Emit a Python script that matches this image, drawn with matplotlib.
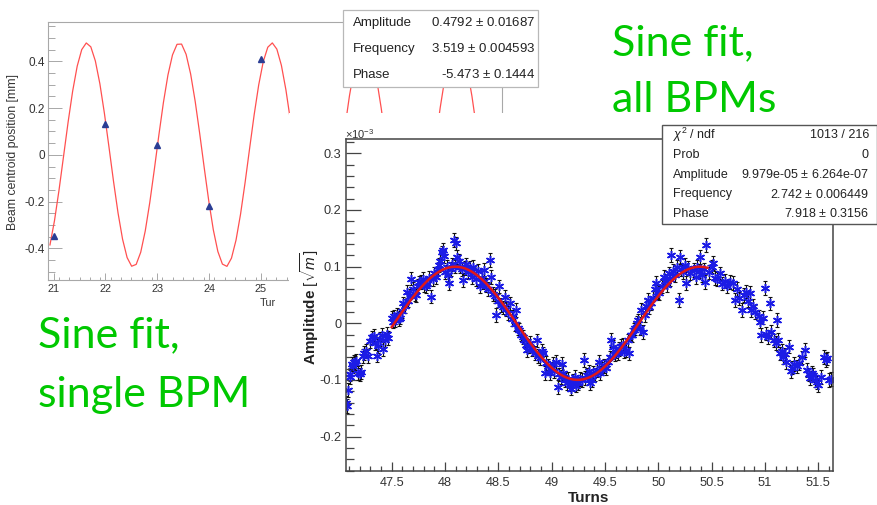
import numpy as np
import matplotlib.pyplot as plt
from matplotlib.patches import Rectangle
from matplotlib.ticker import MultipleLocator, FormatStrFormatter

plt.rcParams['font.family'] = ['Liberation Sans', 'DejaVu Sans']
plt.rcParams['axes.unicode_minus'] = False
plt.rcParams['mathtext.fontset'] = 'custom'
plt.rcParams['mathtext.rm'] = 'Liberation Sans'
plt.rcParams['mathtext.it'] = 'Liberation Sans:italic'

# single BPM: turn number and beam centroid position [mm]
single_turns = [21, 22, 23, 24, 25]
single_pos = [-0.349, 0.131, 0.041, -0.221, 0.410]
single_fit = {"Amplitude": 0.4792, "Frequency": 3.519, "Phase": -5.473}

# all BPMs: turns and amplitude (units of 1e-3 sqrt(m))
all_turns = [
    47.075, 47.085, 47.095, 47.105, 47.11, 47.125, 47.135, 47.145, 47.16, 47.17,
    47.185, 47.2, 47.215, 47.23, 47.245, 47.26, 47.275, 47.3, 47.315, 47.33,
    47.345, 47.36, 47.375, 47.39, 47.405, 47.42, 47.44, 47.455, 47.47,
    47.50, 47.51, 47.52, 47.535, 47.55, 47.565, 47.58, 47.6, 47.61, 47.625,
    47.64, 47.655, 47.67, 47.685, 47.7, 47.715, 47.73, 47.745, 47.76, 47.775,
    47.79, 47.805, 47.82, 47.835, 47.85, 47.87, 47.885, 47.9, 47.915, 47.93,
    47.94, 47.955, 47.97, 47.98, 47.99, 48.0, 48.015, 48.025, 48.04, 48.055,
    48.07, 48.08, 48.095, 48.105, 48.115, 48.13, 48.14, 48.155, 48.17, 48.185,
    48.2, 48.215, 48.23, 48.25, 48.26, 48.275, 48.29, 48.31, 48.33, 48.345,
    48.36, 48.37, 48.385, 48.4, 48.42, 48.435, 48.45, 48.465, 48.48, 48.495,
    48.51, 48.525, 48.54, 48.56, 48.575, 48.59, 48.61, 48.625, 48.64, 48.655,
    48.67, 48.68, 48.695, 48.71, 48.73, 48.745, 48.76, 48.77, 48.785, 48.8,
    48.82, 48.84, 48.86, 48.875, 48.89, 48.905, 48.92, 48.935, 48.95, 48.965,
    48.98, 48.995, 49.01, 49.025, 49.04, 49.055, 49.07, 49.085, 49.1, 49.11,
    49.125, 49.14, 49.155, 49.17, 49.185, 49.2, 49.215, 49.23, 49.25, 49.265,
    49.28, 49.3, 49.315, 49.33, 49.345, 49.36, 49.375, 49.39, 49.41, 49.425,
    49.44, 49.455, 49.47, 49.49, 49.51, 49.53, 49.545, 49.56, 49.575, 49.59,
    49.605, 49.62, 49.635, 49.65, 49.665, 49.68, 49.7, 49.715, 49.72, 49.74,
    49.755, 49.77, 49.78, 49.795, 49.81, 49.825, 49.84, 49.86, 49.87, 49.885,
    49.9, 49.915, 49.93, 49.95, 49.965, 49.98, 49.995, 50.01, 50.03, 50.05,
    50.065, 50.08, 50.095, 50.11, 50.12, 50.14, 50.155, 50.17, 50.19, 50.2,
    50.215, 50.23, 50.25, 50.26, 50.28, 50.3, 50.33, 50.35, 50.36, 50.38,
    50.39, 50.41, 50.43, 50.44, 50.45,
    50.47, 50.5, 50.51, 50.53, 50.55, 50.58, 50.6, 50.62, 50.64, 50.67,
    50.7, 50.72, 50.74, 50.76, 50.78, 50.8, 50.82, 50.84, 50.86, 50.87,
    50.89, 50.91, 50.94, 50.95, 50.96, 50.98, 51.0, 51.01, 51.03, 51.05,
    51.06, 51.08, 51.1, 51.11, 51.12, 51.14, 51.16, 51.17, 51.19, 51.2,
    51.22, 51.24, 51.25, 51.27, 51.3, 51.32, 51.35, 51.37, 51.39, 51.41,
    51.42, 51.44, 51.45, 51.47, 51.49, 51.5, 51.52, 51.55, 51.57, 51.58,
    51.6, 51.62,
]
all_amp = [
    -0.140, -0.146, -0.118, -0.095, -0.090, -0.072, -0.075, -0.068, -0.070, -0.066,
    -0.088, -0.090, -0.086, -0.058, -0.052, -0.048, -0.058, -0.032, -0.025, -0.022,
    -0.035, -0.057, -0.040, -0.028, -0.020, -0.045, -0.030, -0.018, -0.026,
    0.010, 0.003, 0.012, 0.006, 0.015, 0.008, 0.010, 0.022, 0.035, 0.030,
    0.056, 0.040, 0.048, 0.079, 0.060, 0.052, 0.050, 0.066, 0.072, 0.073,
    0.078, 0.068, 0.065, 0.070, 0.080, 0.047, 0.078, 0.088, 0.082, 0.095,
    0.103, 0.110, 0.125, 0.129, 0.118, 0.090, 0.100, 0.085, 0.071, 0.096,
    0.104, 0.147, 0.100, 0.141, 0.117, 0.110, 0.100, 0.095, 0.076, 0.098,
    0.104, 0.090, 0.097, 0.082, 0.100, 0.088, 0.078, 0.092, 0.065, 0.080,
    0.072, 0.094, 0.068, 0.060, 0.112, 0.082, 0.052, 0.048, 0.015, 0.040,
    0.065, 0.032, 0.028, 0.047, 0.025, 0.018, 0.035, 0.008, 0.012, -0.002,
    0.023, -0.009, -0.012, -0.020, -0.024, -0.030, -0.038, -0.047, -0.040, -0.035,
    -0.045, -0.052, -0.030, -0.058, -0.062, -0.048, -0.053, -0.088, -0.070, -0.075,
    -0.088, -0.080, -0.072, -0.085, -0.068, -0.112, -0.090, -0.095, -0.071, -0.088,
    -0.100, -0.105, -0.098, -0.108, -0.115, -0.102, -0.094, -0.110, -0.106, -0.098,
    -0.100, -0.065, -0.096, -0.091, -0.085, -0.106, -0.100, -0.088, -0.090, -0.082,
    -0.068, -0.088, -0.080, -0.075, -0.079, -0.068, -0.060, -0.029, -0.041, -0.055,
    -0.050, -0.053, -0.045, -0.040, -0.038, -0.050, -0.047, -0.030, -0.053, -0.020,
    -0.021, -0.012, -0.009, 0.000, 0.005, -0.008, 0.023, -0.015, 0.015, 0.030,
    0.041, 0.028, 0.035, 0.045, 0.060, 0.071, 0.055, 0.053, 0.065, 0.082,
    0.075, 0.068, 0.088, 0.078, 0.120, 0.092, 0.085, 0.100, 0.041, 0.117,
    0.095, 0.090, 0.103, 0.071, 0.098, 0.088, 0.094, 0.082, 0.100, 0.092,
    0.117, 0.085, 0.095, 0.073, 0.138,
    0.090, 0.100, 0.106, 0.080, 0.078, 0.088, 0.070, 0.075, 0.065, 0.073,
    0.071, 0.041, 0.060, 0.044, 0.023, 0.050, 0.056, 0.040, 0.053, 0.023,
    0.030, 0.020, 0.012, 0.003, -0.021, 0.010, 0.062, -0.018, -0.024, 0.035,
    -0.015, -0.030, -0.035, 0.006, -0.029, -0.053, -0.048, -0.059, -0.055, -0.068,
    -0.041, -0.085, -0.078, -0.072, -0.076, -0.070, -0.060, -0.047, -0.082, -0.090,
    -0.097, -0.088, -0.091, -0.100, -0.104, -0.109, -0.095, -0.059, -0.065, -0.062,
    -0.100, -0.098,
]
amp_err = 0.012
all_fit = {"Amplitude": 9.979e-05, "Frequency": 2.742, "Phase": 7.918}
fit_range = (47.5, 50.46)

W, H = 878, 505
def px_box(x0, y0, x1, y1):
    return [x0 / W, 1 - y1 / H, (x1 - x0) / W, (y1 - y0) / H]
def px(x, y):
    return (x / W, 1 - y / H)

fig = plt.figure(figsize=(8.78, 5.05), dpi=100)

# ---- left picture: single BPM ----
ax1 = fig.add_axes(px_box(48, 22, 502, 280))
ax1.set_zorder(0)
xs = np.linspace(20.93, 29.6, 100)
ax1.plot(xs, single_fit["Amplitude"] * np.sin(single_fit["Frequency"] * xs + single_fit["Phase"]),
         color='#ff5050', lw=0.9)
ax1.plot(single_turns, single_pos, ls='none', marker='^', ms=4.5, color='#2b3d94')
ax1.set_xlim(20.892, 29.654)
ax1.set_ylim(-0.5357, 0.5685)
ax1.set_xticks(single_turns)  # the rest of this axis is hidden under the second picture
ax1.set_xticks(np.arange(20.9, 25.6, 0.2), minor=True)
ax1.yaxis.set_major_locator(MultipleLocator(0.2))
ax1.yaxis.set_minor_locator(MultipleLocator(0.05))
ax1.xaxis.set_major_formatter(FormatStrFormatter('%g'))
ax1.yaxis.set_major_formatter(FormatStrFormatter('%g'))
for s in ax1.spines.values():
    s.set_color('#a8a8a8')
    s.set_linewidth(0.8)
ax1.tick_params(axis='both', which='both', direction='in', colors='#a8a8a8',
                labelcolor='#333333', width=0.7)
ax1.tick_params(axis='y', which='major', length=10, pad=2, labelsize=8.5)
ax1.tick_params(axis='y', which='minor', length=5)
ax1.tick_params(axis='x', which='major', length=5, pad=3, labelsize=7.8)
ax1.tick_params(axis='x', which='minor', length=2.5)
fig.text(*px(13, 152), 'Beam centroid position [mm]', rotation=90, ha='center', va='center',
         fontsize=8.8, color='#333333')
fig.text(*px(260, 303), 'Tur', ha='left', va='center', fontsize=7.8, color='#333333')

# stats box of left picture
fig.add_artist(Rectangle(px(343, 87), 195 / W, 77 / H, transform=fig.transFigure,
                         facecolor='white', edgecolor='#b8b8b8', lw=0.9, zorder=2))
rows1 = [("Amplitude", "0.4792 $\\pm$ 0.01687", 23),
         ("Frequency", "3.519 $\\pm$ 0.004593", 49),
         ("Phase", "-5.473 $\\pm$ 0.1444", 75)]
for name, val, y in rows1:
    fig.text(*px(353, y), name, ha='left', va='center', fontsize=9.5, color='#222222', zorder=3)
    fig.text(*px(535, y), val, ha='right', va='center', fontsize=9.5, color='#222222', zorder=3)

# white background of the second picture
fig.add_artist(Rectangle(px(289, 505), (W - 289) / W, (505 - 113) / H, transform=fig.transFigure,
                         facecolor='white', edgecolor='none', zorder=4))

# ---- right picture: all BPMs ----
ax2 = fig.add_axes(px_box(345.7, 139.3, 832.7, 471))
ax2.set_zorder(5)
ax2.patch.set_alpha(0)
ax2.errorbar(all_turns, all_amp, yerr=amp_err, fmt='none', ecolor='#111111',
             elinewidth=0.8, capsize=1.6, capthick=0.8)
ax2.plot(all_turns, all_amp, ls='none', marker=(6, 2, 0), ms=6.5, mew=1.1, color='#1c1ce6')
xf = np.linspace(fit_range[0], fit_range[1], 100)
ax2.plot(xf, all_fit["Amplitude"] * 1e3 * np.sin(all_fit["Frequency"] * xf + all_fit["Phase"]),
         color='#e01818', lw=1.8)
ax2.set_xlim(47.069, 51.634)
ax2.set_ylim(-0.2605, 0.3245)
ax2.xaxis.set_major_locator(MultipleLocator(0.5))
ax2.xaxis.set_minor_locator(MultipleLocator(0.1))
ax2.yaxis.set_major_locator(MultipleLocator(0.1))
ax2.yaxis.set_minor_locator(MultipleLocator(0.02))
ax2.xaxis.set_major_formatter(FormatStrFormatter('%g'))
ax2.yaxis.set_major_formatter(FormatStrFormatter('%g'))
for s in ax2.spines.values():
    s.set_color('#444444')
    s.set_linewidth(1.1)
ax2.tick_params(axis='both', which='both', direction='in', colors='#444444',
                labelcolor='#333333', labelsize=9.2, width=0.9)
ax2.tick_params(axis='y', which='major', length=11, pad=3)
ax2.tick_params(axis='y', which='minor', length=5.5)
ax2.tick_params(axis='x', which='major', length=6.5, pad=4)
ax2.tick_params(axis='x', which='minor', length=3.3)
fig.text(*px(345, 134), r'$\times$10$^{-3}$', ha='left', va='center', fontsize=8,
         color='#333333', zorder=6)
fig.text(*px(310, 307), r'Amplitude $[\sqrt{m}]$', rotation=90, ha='center',
         va='center', fontsize=11, fontweight='bold', color='#222222', zorder=6)
fig.text(*px(589, 498), 'Turns', ha='center', va='center', fontsize=11, fontweight='bold',
         color='#222222', zorder=6)

# stats box of right picture
fig.add_artist(Rectangle(px(662, 224), 215 / W, 99 / H, transform=fig.transFigure,
                         facecolor='white', edgecolor='#555555', lw=1.0, zorder=7))
rows2 = [(r'$\chi^{2}$ / ndf', "1013 / 216", 135),
         ("Prob", "0", 155),
         ("Amplitude", "9.979e-05 $\\pm$ 6.264e-07", 175),
         ("Frequency", "2.742 $\\pm$ 0.006449", 194),
         ("Phase", "7.918 $\\pm$ 0.3156", 214)]
for name, val, y in rows2:
    fig.text(*px(673, y), name, ha='left', va='center', fontsize=9, color='#222222', zorder=8)
    fig.text(*px(869, y), val, ha='right', va='center', fontsize=9, color='#222222', zorder=8)

# green annotations
green = '#00c800'
for txt, x, y in [("Sine fit,", 612, 55), ("all BPMs", 612, 112),
                  ("Sine fit,", 38, 347), ("single BPM", 38, 407)]:
    fig.text(*px(x, y), txt, ha='left', va='baseline', fontsize=31, color=green,
             family=['Lato', 'DejaVu Sans'], zorder=10)

fig.savefig('out.png', dpi=100)
